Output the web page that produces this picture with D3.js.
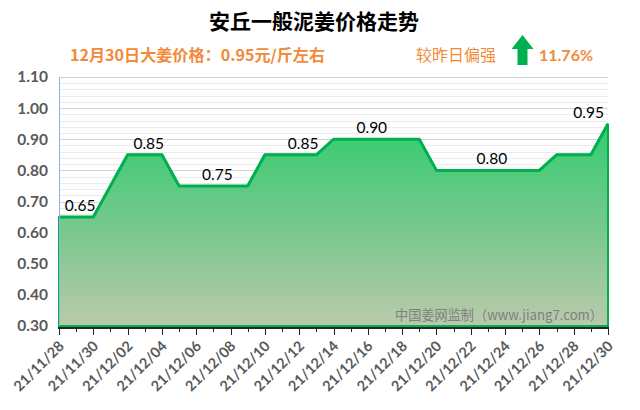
<!DOCTYPE html>
<html><head><meta charset="utf-8">
<script src="https://cdn.jsdelivr.net/npm/d3@7"></script>
<style>
html,body{margin:0;padding:0;background:#fff;}
svg{display:block;}
</style></head>
<body>
<svg id="chart" width="640" height="410"></svg>
<script>
// ---- data ----
const dates = ["2021-11-28","2021-11-29","2021-11-30","2021-12-02","2021-12-03","2021-12-04","2021-12-05","2021-12-06","2021-12-07","2021-12-08","2021-12-09","2021-12-10","2021-12-11","2021-12-12","2021-12-13","2021-12-14","2021-12-15","2021-12-16","2021-12-17","2021-12-18","2021-12-19","2021-12-20","2021-12-21","2021-12-22","2021-12-23","2021-12-24","2021-12-25","2021-12-26","2021-12-27","2021-12-28","2021-12-29","2021-12-30"];
const prices = [0.65,0.65,0.65,0.85,0.85,0.85,0.75,0.75,0.75,0.75,0.75,0.85,0.85,0.85,0.85,0.90,0.90,0.90,0.90,0.90,0.90,0.80,0.80,0.80,0.80,0.80,0.80,0.80,0.85,0.85,0.85,0.95];
const labelDates = ["2021-11-29","2021-12-03","2021-12-07","2021-12-12","2021-12-16","2021-12-23","2021-12-30"];
const yTicks = [0.30,0.40,0.50,0.60,0.70,0.80,0.90,1.00,1.10];
const xStart = "2021-11-28", xEnd = "2021-12-30";
const title = "安丘一般泥姜价格走势";
const watermark = "中国姜网监制（www.jiang7.com）";

// ---- setup ----
const parse = d3.utcParse("%Y-%m-%d");
const fmtTick = d3.utcFormat("%y/%m/%d");
const data = dates.map((d,i)=>({date:parse(d), v:prices[i]}));
const svg = d3.select("#chart");
const pL = 59, pR = 608, pT = 77, pB = 326;
const x = d3.scaleUtc().domain([parse(xStart), parse(xEnd)]).range([pL, pR]);
const y = d3.scaleLinear().domain([0.30, 1.10]).range([pB, pT]);
const orange = "#f28a3a", green = "#00b050";
const numFont = "Lato, 'Noto Sans', sans-serif";
const cjkFont = "'Noto Sans CJK SC', sans-serif";

// title
svg.append("text").attr("x", 314).attr("y", 29).attr("text-anchor","middle")
  .attr("font-family", cjkFont).attr("font-weight","bold").attr("font-size", 21)
  .attr("fill","#000").text(title);

// subtitle
const last = data[data.length-1], prev = data[data.length-2];
const lastDate = last.date;
const sub = (lastDate.getUTCMonth()+1) + "月" + lastDate.getUTCDate() + "日大姜价格：" + last.v.toFixed(2) + "元/斤左右";
svg.append("text").attr("x", 70).attr("y", 61)
  .attr("font-family", cjkFont).attr("font-weight","bold").attr("font-size", 15.5)
  .attr("fill", orange).attr("textLength", 255).attr("lengthAdjust","spacingAndGlyphs").text(sub);
svg.append("text").attr("x", 416).attr("y", 61)
  .attr("font-family", cjkFont).attr("font-size", 16)
  .attr("fill", orange).attr("textLength", 80).attr("lengthAdjust","spacingAndGlyphs").text("较昨日偏强");
// arrow
const ax = 522.5;
svg.append("path")
  .attr("d", `M${ax},35 L${ax+11},49 L${ax+5},49 L${ax+5},65 L${ax-5},65 L${ax-5},49 L${ax-11},49 Z`)
  .attr("fill", green);
const pct = ((last.v - prev.v)/prev.v*100).toFixed(2) + "%";
svg.append("text").attr("x", 539).attr("y", 61)
  .attr("font-family", numFont).attr("font-weight","bold").attr("font-size", 16)
  .attr("fill", orange).text(pct);

// gridlines (minor every 0.02)
const minor = d3.range(0.30, 1.1001, 0.02).map(v=>+v.toFixed(2));
svg.append("g").selectAll("line").data(minor).join("line")
  .attr("x1", pL).attr("x2", pR).attr("y1", d=>Math.round(y(d))+0.5).attr("y2", d=>Math.round(y(d))+0.5)
  .attr("stroke", d=> yTicks.some(t=>Math.abs(t-d)<1e-6) ? "#d4d4d4" : "#ebebeb").attr("stroke-width",1);

// gradient
const defs = svg.append("defs");
const grad = defs.append("linearGradient").attr("id","g1").attr("gradientUnits","userSpaceOnUse")
  .attr("x1",0).attr("x2",0).attr("y1", y(0.95)).attr("y2", pB);
grad.append("stop").attr("offset","0%").attr("stop-color","#33cc6e");
grad.append("stop").attr("offset","55%").attr("stop-color","#7cc890");
grad.append("stop").attr("offset","100%").attr("stop-color","#b9caab");

// area
const area = d3.area().x(d=>x(d.date)).y0(pB).y1(d=>y(d.v));
svg.append("path").datum(data).attr("d", area).attr("fill","url(#g1)")
  .attr("stroke", green).attr("stroke-width", 2);
// line
const line = d3.line().x(d=>x(d.date)).y(d=>y(d.v));
svg.append("path").datum(data).attr("d", line).attr("fill","none")
  .attr("stroke", green).attr("stroke-width", 3).attr("stroke-linejoin","round");

// y axis line
svg.append("line").attr("x1", pL+0.5).attr("x2", pL+0.5).attr("y1", pT).attr("y2", pB)
  .attr("stroke","#8eb4e3").attr("stroke-width",1);

// y labels
svg.append("g").selectAll("text").data(yTicks).join("text")
  .attr("x", 48).attr("y", d=>y(d)).attr("dy","0.35em").attr("text-anchor","end")
  .attr("font-family", numFont).attr("font-weight","bold").attr("font-size", 15.5)
  .attr("fill","#595959").text(d=>d.toFixed(2));

// x axis
const allDays = d3.utcDay.range(parse(xStart), d3.utcDay.offset(parse(xEnd),1));
const major = allDays.filter((d,i)=>i%2===0);
const xg = svg.append("g");
xg.append("line").attr("x1", pL-1).attr("x2", pR+1).attr("y1", pB+2).attr("y2", pB+2)
  .attr("stroke","#262626").attr("stroke-width",2);
xg.selectAll("line.t").data(allDays).join("line").attr("class","t")
  .attr("x1", d=>Math.round(x(d))+0.5).attr("x2", d=>Math.round(x(d))+0.5)
  .attr("y1", pB+2).attr("y2", (d,i)=> i%2===0 ? pB+9 : pB+6)
  .attr("stroke","#262626").attr("stroke-width",1);
xg.selectAll("text").data(major).join("text")
  .attr("transform", d=>`translate(${x(d)+6},${pB+21}) rotate(-45)`)
  .attr("text-anchor","end")
  .attr("font-family", numFont).attr("font-weight","bold").attr("font-size", 14.5)
  .attr("fill","#595959").text(d=>fmtTick(d));

// data labels
const labels = labelDates.map(s=>data.find(d=>+d.date===+parse(s)));
svg.append("g").selectAll("text").data(labels).join("text")
  .attr("x", (d,i)=> i===labels.length-1 ? x(d.date)-4 : x(d.date)+4)
  .attr("y", d=>y(d.v)-6)
  .attr("text-anchor", (d,i)=> i===labels.length-1 ? "end" : "middle")
  .attr("font-family", numFont).attr("font-size", 15.5).attr("fill","#000")
  .text(d=>d.v.toFixed(2));

// watermark
svg.append("text").attr("x", 395).attr("y", 320)
  .attr("font-family", cjkFont).attr("font-size", 13.5).attr("fill","#7f7f7f")
  .attr("textLength", 208).attr("lengthAdjust","spacingAndGlyphs").text(watermark);
</script>
</body></html>
